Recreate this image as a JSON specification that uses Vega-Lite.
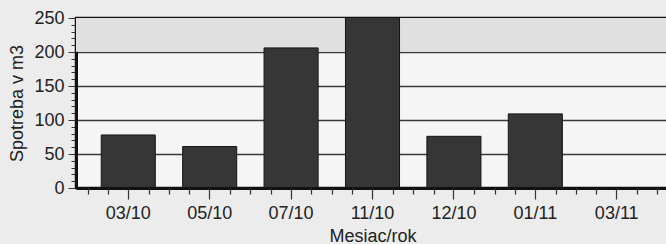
{
  "$schema": "https://vega.github.io/schema/vega-lite/v6.json",
  "autosize": {"type": "none"},
  "width": 593,
  "height": 170,
  "padding": {"left": 76, "top": 18, "right": 0, "bottom": 56},
  "background": "#ececec",
  "config": {
    "view": {"stroke": "#111111", "strokeWidth": 2.5, "fill": "#f5f5f6"},
    "font": "Liberation Sans",
    "axis": {"labelFont": "Liberation Sans", "titleFont": "Liberation Sans", "labelFontSize": 18, "titleFontSize": 18, "titleFontWeight": "normal", "labelColor": "#222222", "titleColor": "#222222"}
  },
  "data": {
    "values": [
      {"mesiac": "03/10", "spotreba": 78},
      {"mesiac": "05/10", "spotreba": 61},
      {"mesiac": "07/10", "spotreba": 206},
      {"mesiac": "11/10", "spotreba": 262},
      {"mesiac": "12/10", "spotreba": 76},
      {"mesiac": "01/11", "spotreba": 109}
    ]
  },
  "layer": [
    {
      "mark": {"type": "rect", "color": "#e0e0e0"},
      "encoding": {
        "y": {
          "datum": 201, "type": "quantitative",
          "scale": {"domain": [0, 250], "nice": false},
          "axis": {
            "title": "Spotreba v m3",
            "values": [0,10,20,30,40,50,60,70,80,90,100,110,120,130,140,150,160,170,180,190,200,210,220,230,240,250],
            "labelExpr": "datum.value % 50 === 0 ? datum.label : ''",
            "tickSize": {"condition": {"test": "datum.value % 50 === 0", "value": 8}, "value": 5},
            "tickColor": "#333333",
            "tickWidth": 1,
            "grid": true,
            "gridColor": "#3a3a3a",
            "gridWidth": 1.6,
            "gridOpacity": {"condition": {"test": "datum.value % 50 === 0 && datum.value > 0 && datum.value < 250", "value": 1}, "value": 0},
            "domainColor": "#111111",
            "domainWidth": 3,
            "labelPadding": 4,
            "titlePadding": 7
          }
        },
        "y2": {"datum": 250}
      }
    },
    {
      "mark": {"type": "bar", "color": "#363636", "stroke": "#151515", "strokeWidth": 1, "clip": true},
      "encoding": {
        "x": {
          "field": "mesiac", "type": "ordinal",
          "scale": {"domain": ["03/10", "05/10", "07/10", "11/10", "12/10", "01/11", "03/11"], "paddingInner": 0.336, "paddingOuter": 0.31},
          "axis": {"title": "Mesiac/rok", "labelAngle": 0, "tickSize": 11, "tickColor": "#333333", "tickWidth": 1.2, "domainColor": "#111111", "domainWidth": 3, "labelPadding": 5, "titlePadding": 5, "zindex": 1}
        },
        "y": {
          "field": "spotreba", "type": "quantitative",
          "scale": {"domain": [0, 250], "nice": false},
          "axis": {
            "title": "Spotreba v m3",
            "values": [0,10,20,30,40,50,60,70,80,90,100,110,120,130,140,150,160,170,180,190,200,210,220,230,240,250],
            "labelExpr": "datum.value % 50 === 0 ? datum.label : ''",
            "tickSize": {"condition": {"test": "datum.value % 50 === 0", "value": 8}, "value": 5},
            "tickColor": "#333333",
            "tickWidth": 1,
            "grid": true,
            "gridColor": "#3a3a3a",
            "gridWidth": 1.6,
            "gridOpacity": {"condition": {"test": "datum.value % 50 === 0 && datum.value > 0 && datum.value < 250", "value": 1}, "value": 0},
            "domainColor": "#111111",
            "domainWidth": 3,
            "labelPadding": 4,
            "titlePadding": 7
          }
        }
      }
    },
    {
      "mark": {"type": "rule", "opacity": 0},
      "encoding": {
        "x": {
          "datum": 0, "type": "quantitative",
          "scale": {"domain": [-0.6422, 6.642], "nice": false, "zero": false},
          "axis": {"orient": "bottom", "values": [-0.5,-0.25,0.25,0.5,0.75,1.25,1.5,1.75,2.25,2.5,2.75,3.25,3.5,3.75,4.25,4.5,4.75,5.25,5.5,5.75,6.25,6.5], "labels": false, "domain": false, "grid": false, "tickSize": 6, "tickColor": "#333333", "tickWidth": 1.2, "title": null, "zindex": 1}
        }
      }
    }
  ],
  "resolve": {"scale": {"x": "independent"}, "axis": {"x": "independent"}}
}
